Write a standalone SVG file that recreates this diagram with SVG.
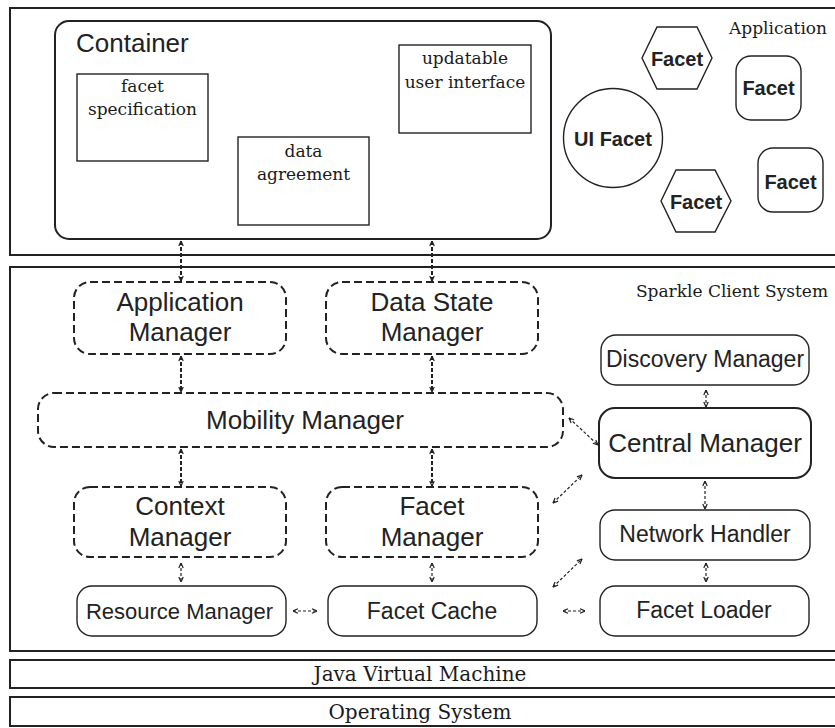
<svg xmlns="http://www.w3.org/2000/svg" width="835" height="728" viewBox="0 0 835 728">
  <style>
    .layer { fill: #fff; stroke: #222; stroke-width: 2; }
    .box { fill: #fff; stroke: #222; stroke-width: 1.4; }
    .solid { fill: #fff; stroke: #222; stroke-width: 1.4; }
    .strong { fill: #fff; stroke: #222; stroke-width: 2; }
    .dashed { fill: #fff; stroke: #222; stroke-width: 2; stroke-dasharray: 8 4; }
    .serif { font-family: "DejaVu Serif", "Liberation Serif", serif; font-size: 17px; fill: #1a1a1a; text-anchor: middle; }
    .big { font-size: 20px; }
    .sans { font-family: "Liberation Sans", Arial, sans-serif; fill: #222; text-anchor: middle; }
    .bold { font-family: "Liberation Sans", Arial, sans-serif; font-weight: bold; font-size: 20px; fill: #222; text-anchor: middle; }
    .link { fill: none; stroke: #222; stroke-width: 2; stroke-dasharray: 4 2; }
    .thin { fill: none; stroke: #222; stroke-width: 1.2; stroke-dasharray: 3 2; }
  </style>
  <defs>
    <marker id="ah" viewBox="0 0 6 6" refX="5.6" refY="3" markerWidth="6" markerHeight="6" markerUnits="userSpaceOnUse" orient="auto-start-reverse">
      <path d="M0.6,0.8 L5.6,3 L0.6,5.2" fill="none" stroke="#222" stroke-width="1.2"/>
    </marker>
  </defs>

  <rect width="835" height="728" fill="#fff"/>

  <!-- layers -->
  <g id="application-layer">
    <rect class="layer" x="10" y="8" width="830" height="247"/>
    <text class="serif" x="778" y="34">Application</text>
  </g>
  <g id="sparkle-layer">
    <rect class="layer" x="10" y="267" width="830" height="384"/>
    <text class="serif" x="732" y="297">Sparkle Client System</text>
  </g>
  <g id="jvm-layer">
    <rect class="layer" x="10" y="660" width="830" height="28"/>
    <text class="serif big" x="420" y="681">Java Virtual Machine</text>
  </g>
  <g id="os-layer">
    <rect class="layer" x="10" y="697" width="830" height="29"/>
    <text class="serif big" x="420" y="719">Operating System</text>
  </g>

  <!-- container and its parts -->
  <g id="container">
    <rect class="strong" x="55" y="21" width="496" height="218" rx="14"/>
    <text class="sans" x="76" y="52" font-size="26" style="text-anchor:start">Container</text>
  </g>
  <g id="facet-specification">
    <rect class="box" x="77" y="74" width="131" height="87"/>
    <text class="serif" x="142.5" y="92">facet</text>
    <text class="serif" x="142.5" y="115">specification</text>
  </g>
  <g id="data-agreement">
    <rect class="box" x="238" y="137" width="131" height="88"/>
    <text class="serif" x="303.5" y="157">data</text>
    <text class="serif" x="303.5" y="180">agreement</text>
  </g>
  <g id="updatable-ui">
    <rect class="box" x="399" y="45" width="132" height="88"/>
    <text class="serif" x="465" y="64">updatable</text>
    <text class="serif" x="465" y="88">user interface</text>
  </g>

  <!-- facets -->
  <g id="facet-hex-1">
    <polygon class="solid" points="642,58 657,27 697,27 712,58 697,89 657,89"/>
    <text class="bold" x="677" y="66">Facet</text>
  </g>
  <g id="facet-hex-2">
    <polygon class="solid" points="661,201 676,170 715,170 731,201 715,232 676,232"/>
    <text class="bold" x="696" y="209">Facet</text>
  </g>
  <g id="ui-facet">
    <circle class="solid" cx="613" cy="138" r="49.5"/>
    <text class="bold" x="613" y="146">UI Facet</text>
  </g>
  <g id="facet-round-1">
    <rect class="solid" x="736" y="56" width="65" height="64" rx="15"/>
    <text class="bold" x="768.5" y="95">Facet</text>
  </g>
  <g id="facet-round-2">
    <rect class="solid" x="758" y="148" width="65" height="64" rx="15"/>
    <text class="bold" x="790.5" y="189">Facet</text>
  </g>

  <!-- managers -->
  <g id="application-manager">
    <rect class="dashed" x="74" y="282" width="212" height="72" rx="16"/>
    <text class="sans" font-size="26" x="180" y="311">Application</text>
    <text class="sans" font-size="26" x="180" y="341">Manager</text>
  </g>
  <g id="data-state-manager">
    <rect class="dashed" x="326" y="282" width="212" height="72" rx="16"/>
    <text class="sans" font-size="26" x="432" y="311">Data State</text>
    <text class="sans" font-size="26" x="432" y="341">Manager</text>
  </g>
  <g id="mobility-manager">
    <rect class="dashed" x="38" y="393" width="525" height="54" rx="16"/>
    <text class="sans" font-size="26" x="305" y="429">Mobility Manager</text>
  </g>
  <g id="context-manager">
    <rect class="dashed" x="74" y="487" width="212" height="70" rx="16"/>
    <text class="sans" font-size="26" x="180" y="515">Context</text>
    <text class="sans" font-size="26" x="180" y="546">Manager</text>
  </g>
  <g id="facet-manager">
    <rect class="dashed" x="326" y="487" width="212" height="70" rx="16"/>
    <text class="sans" font-size="26" x="432" y="515">Facet</text>
    <text class="sans" font-size="26" x="432" y="546">Manager</text>
  </g>
  <g id="resource-manager">
    <rect class="solid" x="77" y="586" width="209" height="50" rx="15"/>
    <text class="sans" font-size="22" x="179.5" y="619">Resource Manager</text>
  </g>
  <g id="facet-cache">
    <rect class="solid" x="328" y="586" width="209" height="50" rx="15"/>
    <text class="sans" font-size="23" x="432" y="619">Facet Cache</text>
  </g>
  <g id="discovery-manager">
    <rect class="solid" x="601" y="335" width="208" height="50" rx="15"/>
    <text class="sans" font-size="23" x="705" y="367">Discovery Manager</text>
  </g>
  <g id="central-manager">
    <rect class="strong" x="599" y="408" width="212" height="70" rx="16"/>
    <text class="sans" font-size="26" x="705" y="452">Central Manager</text>
  </g>
  <g id="network-handler">
    <rect class="solid" x="600" y="510" width="210" height="50" rx="15"/>
    <text class="sans" font-size="23" x="705" y="542">Network Handler</text>
  </g>
  <g id="facet-loader">
    <rect class="solid" x="600" y="586" width="209" height="50" rx="15"/>
    <text class="sans" font-size="23" x="704" y="618">Facet Loader</text>
  </g>

  <!-- connectors: two-way dashed links -->
  <g id="connectors">
    <line class="link" x1="181" y1="241" x2="181" y2="281" marker-start="url(#ah)" marker-end="url(#ah)"/>
    <line class="link" x1="432" y1="241" x2="432" y2="281" marker-start="url(#ah)" marker-end="url(#ah)"/>
    <line class="link" x1="181" y1="356" x2="181" y2="392" marker-start="url(#ah)" marker-end="url(#ah)"/>
    <line class="link" x1="432" y1="356" x2="432" y2="392" marker-start="url(#ah)" marker-end="url(#ah)"/>
    <line class="link" x1="181" y1="449" x2="181" y2="486" marker-start="url(#ah)" marker-end="url(#ah)"/>
    <line class="link" x1="432" y1="449" x2="432" y2="486" marker-start="url(#ah)" marker-end="url(#ah)"/>
    <line class="thin" x1="181" y1="563" x2="181" y2="582" marker-start="url(#ah)" marker-end="url(#ah)"/>
    <line class="thin" x1="432" y1="563" x2="432" y2="582" marker-start="url(#ah)" marker-end="url(#ah)"/>
    <line class="thin" x1="293" y1="611" x2="317" y2="611" marker-start="url(#ah)" marker-end="url(#ah)"/>
    <line class="thin" x1="563" y1="611" x2="585" y2="611" marker-start="url(#ah)" marker-end="url(#ah)"/>
    <line class="thin" x1="569" y1="418" x2="598" y2="445" marker-start="url(#ah)" marker-end="url(#ah)"/>
    <line class="thin" x1="553" y1="503" x2="582" y2="475" marker-start="url(#ah)" marker-end="url(#ah)"/>
    <line class="thin" x1="553" y1="587" x2="582" y2="559" marker-start="url(#ah)" marker-end="url(#ah)"/>
    <line class="thin" x1="706" y1="390" x2="706" y2="407" marker-start="url(#ah)" marker-end="url(#ah)"/>
    <line class="thin" x1="705" y1="481" x2="705" y2="509" marker-start="url(#ah)" marker-end="url(#ah)"/>
    <line class="thin" x1="706" y1="563" x2="706" y2="582" marker-start="url(#ah)" marker-end="url(#ah)"/>
  </g>
</svg>
